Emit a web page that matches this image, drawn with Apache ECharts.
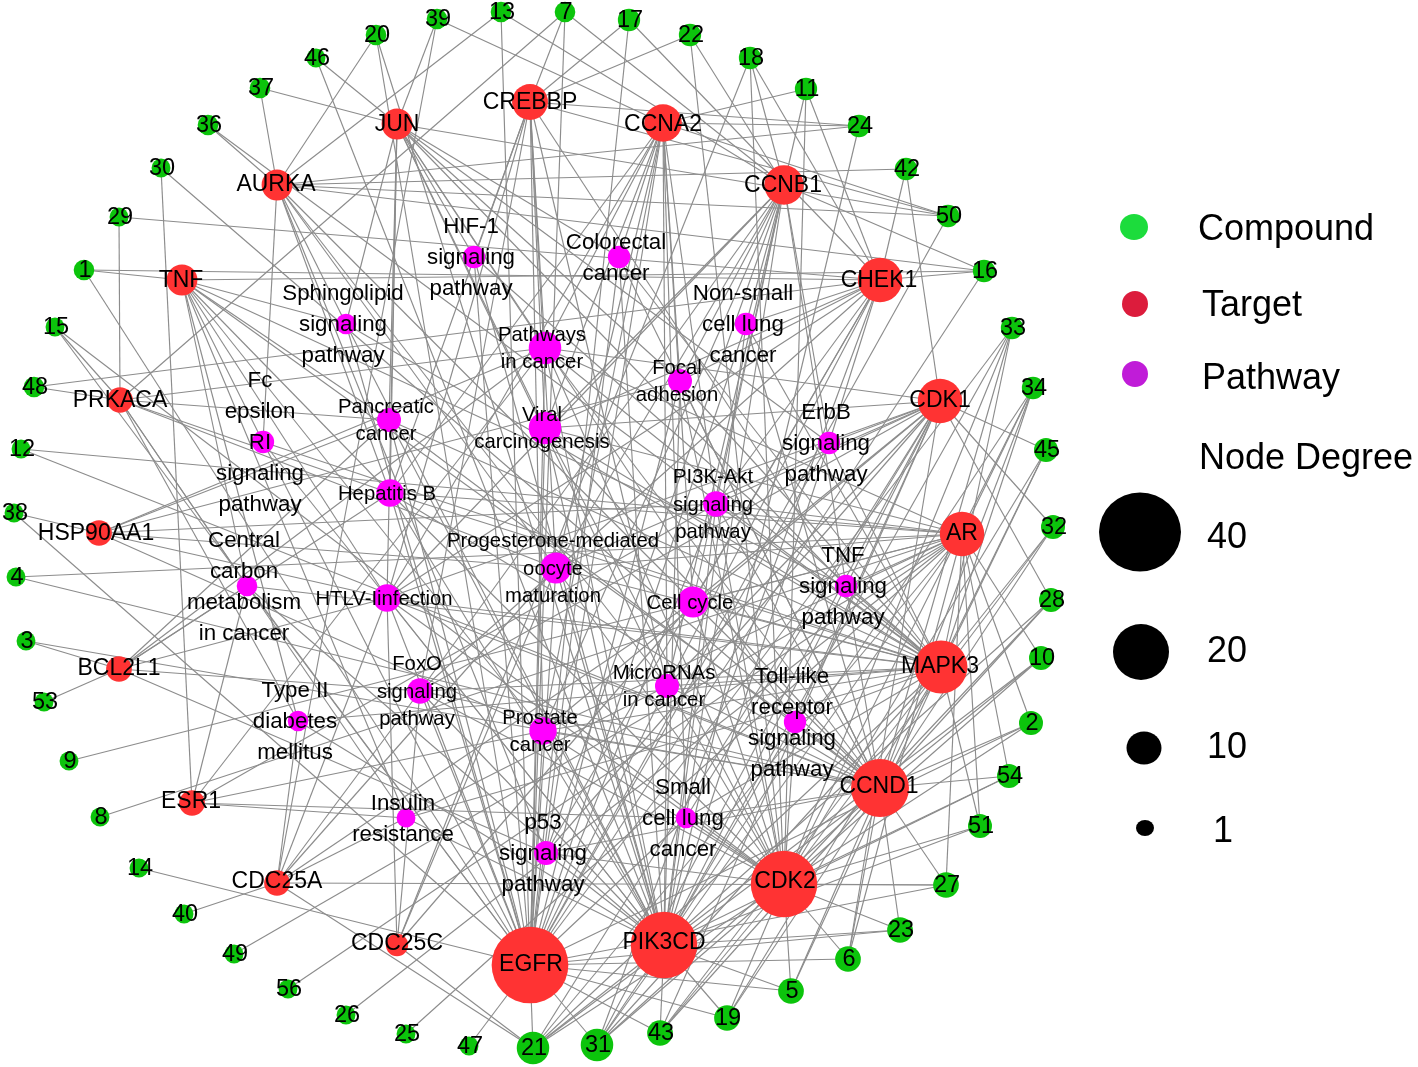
<!DOCTYPE html>
<html><head><meta charset="utf-8">
<style>html,body{margin:0;padding:0;background:#fff}#c{width:1418px;height:1067px}</style>
<script src="https://cdn.jsdelivr.net/npm/echarts@6/dist/echarts.min.js"></script>
</head><body><div id="c"></div>
<script>
// --- compounds
const compoundIds = ['13','39','20','46','37','36','30','29','1','15','48','12','38','4','3','53','9','8','14','40','49','56','26','25','47','21','31','43','19','5','6','23','27','51','54','2','10','28','32','45','34','33','16','50','42','24','11','18','22','17','7'];
const compoundX = [501,437,376,316,260,208,161,119,84,55,34,21,14,16,26,44,69,100,139,184,234,288,346,406,469,533,597,660,727,791,848,900,946,980,1009,1031,1041,1051,1053,1046,1033,1012,984,948,906,859,806,750,690,629,565];
const compoundY = [12,19,35,58,88,125,168,217,270,327,387,449,513,577,641,702,761,817,868,914,954,989,1015,1034,1046,1048,1045,1033,1018,991,959,930,885,826,776,723,658,600,527,450,388,328,271,216,169,126,89,58,35,20,12];
const compoundDegree = [3,3,3,2,3,3,2,2,3,2,3,2,2,2,2,2,2,2,2,2,2,2,2,2,2,10,10,6,6,6,6,6,6,5,5,5,5,5,5,5,4,4,4,4,4,4,4,4,4,4,3];
// --- targets
const targetIds = ['JUN','CREBBP','AURKA','TNF','PRKACA','HSP90AA1','BCL2L1','ESR1','CDC25A','CDC25C','EGFR','PIK3CD','CDK2','CCND1','MAPK3','AR','CDK1','CHEK1','CCNB1','CCNA2'];
const targetX = [397,530,277,182,120,99,119,192,277,397,530,664,784,880,941,962,940,880,784,663];
const targetY = [124,102,185,280,400,533,669,803,883,945,965,945,884,788,667,534,401,280,185,123];
const targetDegree = [9,12,9,9,6,6,6,6,6,4,36,30,30,25,22,17,17,17,14,13];
const targetLabelX = [397,530,276,181,120,96,119,191,277,397,531,664,785,879,940,962,940,879,783,663];
const targetLabelY = [124,102,184,280,400,533,668,801,881,943,964,942,881,786,666,533,400,280,185,124];
// --- pathways
const pathwayIds = ['HIF','COL','SPH','NSC','PIC','FOC','VIR','PAN','ERB','FCE','HEP','PI3','PRO','CCM','HTL','CEL','TNS','FOX','MIR','TOL','PRC','T2D','SCL','INS','P53'];
const pathwayLabels = ['HIF-1\nsignaling\npathway','Colorectal\ncancer','Sphingolipid\nsignaling\npathway','Non-small\ncell lung\ncancer','Pathways\nin cancer','Focal\nadhesion','Viral\ncarcinogenesis','Pancreatic\ncancer','ErbB\nsignaling\npathway','Fc\nepsilon\nRI\nsignaling\npathway','Hepatitis B','PI3K-Akt\nsignaling\npathway','Progesterone-mediated\noocyte\nmaturation','Central\ncarbon\nmetabolism\nin cancer','HTLV-Iinfection','Cell cycle','TNF\nsignaling\npathway','FoxO\nsignaling\npathway','MicroRNAs\nin cancer','Toll-like\nreceptor\nsignaling\npathway','Prostate\ncancer','Type II\ndiabetes\nmellitus','Small\ncell lung\ncancer','Insulin\nresistance','p53\nsignaling\npathway'];
const pathwayX = [474,619,346,746,545,680,545,389,829,263,390,716,556,247,387,693,846,420,667,795,543,298,686,406,546];
const pathwayY = [257,257,324,324,348,381,428,420,443,442,493,504,568,586,598,602,586,691,686,722,731,721,818,818,853];
const pathwayDegree = [4,4,3,4,10,5,10,5,4,4,7,6,9,3,7,9,4,6,5,4,7,3,3,2,5];
const pathwayLabelBig = [1,1,1,1,0,0,0,0,1,1,0,0,0,1,0,0,1,0,0,1,0,1,1,1,1];
// --- edges: first item linked to each of the rest
const compoundEdges = [
 ['13','AURKA','EGFR','CCNB1'],['39','JUN','CDC25A','CCNA2'],['20','AURKA','EGFR','PIK3CD'],['46','JUN','PIK3CD'],
 ['37','JUN','AURKA'],['36','AURKA','MAPK3'],['30','ESR1','CCND1'],['29','PRKACA','CHEK1'],['1','TNF','CHEK1','EGFR'],
 ['15','PRKACA','CDK2','EGFR'],['48','PRKACA','CHEK1'],['12','AR','CCND1'],['38','HSP90AA1','EGFR'],['4','AR','CCND1'],
 ['3','BCL2L1','CCND1'],['53','BCL2L1'],['9','AR'],['8','AR'],['14','EGFR'],['40','CDC25A'],['49','AR'],['56','AR'],['26','AR'],['25','AR'],['47','EGFR'],
 ['21','EGFR','PIK3CD','CDK2','CCND1','CDC25A','CDC25C','MAPK3','AR','CDK1'],
 ['31','EGFR','PIK3CD','CDK2','CCND1','MAPK3','AR','CDK1','CHEK1'],
 ['43','EGFR','PIK3CD','CDK2','CCND1','MAPK3','CDK1'],['19','EGFR','PIK3CD','CDK2','CCND1','MAPK3'],
 ['5','EGFR','PIK3CD','CDK2','CCND1','MAPK3'],['6','EGFR','CDK2','CCND1','CDK1','AR'],['23','EGFR','PIK3CD','CDK2','CCND1'],
 ['27','EGFR','CDK2','CCND1','AR','CDC25A'],['51','PIK3CD','CDK2','MAPK3','AR'],['54','CDK2','PIK3CD','CCND1','AR'],
 ['2','EGFR','CDK2','CCND1','AR'],['10','PIK3CD','CDK2','CCND1','AR'],['28','PIK3CD','CDK2','CCND1','CDK1'],
 ['32','CDK2','CCND1','MAPK3','CDK1'],['45','CDK2','CCND1','MAPK3','CDK1'],['34','PIK3CD','CDK2','CCND1','MAPK3','AR'],
 ['33','EGFR','PIK3CD','CDK2','CCND1','MAPK3'],['16','CHEK1','CCNB1','AURKA','EGFR','TNF'],['50','CREBBP','CCNA2','EGFR','AURKA','JUN'],
 ['42','CHEK1','AURKA','CDK1'],['24','CCNA2','AURKA','PIK3CD','CREBBP'],['11','CCNA2','CCNB1','CDK2','CHEK1'],
 ['18','CDK2','CHEK1','CDC25C','CCNB1'],['22','CREBBP','CDK2','CCNB1'],['17','CREBBP','EGFR','CHEK1'],['7','PRKACA','EGFR','CCNB1','CREBBP']
];
const targetEdges = [
 ['JUN','COL','PIC','FOC','VIR','HEP','PAN','ERB','TNS','TOL','HTL','MIR','SPH','HIF'],
 ['CREBBP','PIC','VIR','HTL','HEP','HIF','PRO','FOX','MIR','TNS','PRC'],
 ['AURKA','HEP','PRO','CEL','MIR','SPH','FCE','P53'],
 ['TNF','SPH','FCE','HEP','HTL','PAN','TNS','TOL','T2D','INS','CCM','PRC'],
 ['PRKACA','HEP','PAN','PIC','PRO','T2D','CCM','INS'],
 ['HSP90AA1','PIC','PI3','PRO','PRC','PAN','HTL','FOC'],
 ['BCL2L1','HTL','CCM','HEP','FOX','PAN','PIC','P53'],
 ['ESR1','PRC','PIC','INS','PI3','CCM','SCL'],
 ['CDC25A','CEL','PRO','MIR','T2D','HTL','FOX'],
 ['CDC25C','CEL','PRO','HTL','FOX'],
 ['EGFR','HIF','COL','NSC','PIC','FOC','PAN','ERB','HEP','PI3','PRO','CCM','HTL','FOX','MIR','PRC','SPH','FCE','VIR','SCL','P53'],
 ['PIK3CD','HIF','COL','SPH','NSC','PIC','FOC','VIR','PAN','ERB','FCE','HEP','PI3','PRO','CCM','HTL','TNS','FOX','MIR','TOL','PRC','T2D','SCL','INS','P53'],
 ['CDK2','PIC','VIR','HEP','PI3','PRO','HTL','CEL','MIR','PRC','SCL','P53','FOX','TOL','FOC'],
 ['CCND1','PIC','COL','NSC','FOC','VIR','PAN','HEP','PI3','HTL','CEL','MIR','PRC','SCL','P53','FOX','TOL','TNS'],
 ['MAPK3','COL','NSC','FOC','PIC','VIR','PAN','ERB','FCE','HEP','PI3','PRO','CCM','HTL','TNS','FOX','MIR','TOL','PRC','T2D','SCL','INS','SPH','HIF','CEL'],
 ['AR','PRC','PIC','TNS','PI3','HEP','PRO','VIR','CEL'],
 ['CDK1','VIR','ERB','CEL','PRO','P53','FOX','HTL','MIR','PI3','PRC','SCL','TNS','TOL','PIC'],
 ['CHEK1','CEL','P53','FOX','MIR','HTL','VIR','NSC','FOC','PI3','ERB'],
 ['CCNB1','PRO','CEL','P53','FOX','HTL','VIR','MIR','PI3','SCL','PRC','FOC','ERB','TNS','NSC'],
 ['CCNA2','COL','PIC','VIR','HTL','CEL','PRO','P53','SCL','MIR','FOC','PI3','PRC','HEP']
];
// --- legend
const legendNames = ['Compound','Target','Pathway'];
const legendColors = ['#1cdc3c','#dc1c3c','#c01cd8'];
const degreeTicks = ['40','20','10','1'];
const degreeSize = d => 15.5 + 1.7 * d;

const FONT = '"Liberation Sans", Arial, sans-serif';
const nodes = [], nodeLabels = [];
compoundIds.forEach((id,i)=>{
  nodes.push({name:id,value:[compoundX[i],compoundY[i]],symbolSize:degreeSize(compoundDegree[i]),itemStyle:{color:'#0cc40c'}});
  nodeLabels.push({name:id,value:[compoundX[i]+1,compoundY[i]+1],label:{fontSize:23.5}});
});
targetIds.forEach((id,i)=>{
  nodes.push({name:id,value:[targetX[i],targetY[i]],symbolSize:degreeSize(targetDegree[i]),itemStyle:{color:'#ff3333'}});
  nodeLabels.push({name:id,value:[targetLabelX[i],targetLabelY[i]+1],label:{fontSize:23}});
});
pathwayIds.forEach((id,i)=>{
  nodes.push({name:id,value:[pathwayX[i],pathwayY[i]],symbolSize:degreeSize(pathwayDegree[i]),itemStyle:{color:'#ff00ff'}});
  const big = pathwayLabelBig[i];
  nodeLabels.push({name:pathwayLabels[i],value:[pathwayX[i]-3,pathwayY[i]+1],label:{fontSize:big?22.3:20.3,lineHeight:big?31:27.5}});
});
const links = [];
[...compoundEdges,...targetEdges].forEach(r=>r.slice(1).forEach(t=>links.push({source:r[0],target:t})));

const legendDots = legendNames.map((n,i)=>({value:[[1134,1135,1135][i],[227,304,374][i]],symbolSize:[[28,26],[26,26],[26,26]][i],itemStyle:{color:legendColors[i],opacity:1}}));
const degreeDots = degreeTicks.map((n,i)=>({value:[[1140,1141,1144,1145][i],[532,652,748,828][i]],symbolSize:[[82,79],[56,56],[35,33],[18,16]][i],itemStyle:{color:'#000',opacity:1}}));
const legendTexts = [...legendNames,'Node Degree',...degreeTicks].map((n,i)=>({
  value:[[1198,1202,1202,1199,1207,1207,1207,1213][i],[230,306,379,459,538,652,748,832][i]],name:n}));

const chart = echarts.init(document.getElementById('c'),null,{renderer:'canvas'});
chart.setOption({
  animation:false,
  grid:{left:0,right:0,top:0,bottom:0},
  xAxis:{type:'value',min:0,max:1418,show:false},
  yAxis:{type:'value',min:0,max:1067,inverse:true,show:false},
  series:[
   {type:'graph',coordinateSystem:'cartesian2d',layout:'none',roam:false,silent:true,data:nodes,links:links,
    lineStyle:{color:'#8c8c8c',width:1.15,opacity:1,curveness:0},label:{show:false},emphasis:{disabled:true},z:2},
   {type:'scatter',silent:true,data:[...legendDots,...degreeDots],symbol:'circle',z:2},
   {type:'scatter',silent:true,symbolSize:0,data:nodeLabels,z:5,itemStyle:{opacity:1},
    label:{show:true,position:'inside',align:'center',verticalAlign:'middle',color:'#000',fontFamily:FONT,formatter:p=>p.name},labelLayout:{hideOverlap:false}},
   {type:'scatter',silent:true,symbolSize:0,data:legendTexts,z:5,itemStyle:{opacity:1},
    label:{show:true,position:'inside',align:'left',verticalAlign:'middle',color:'#000',fontSize:36,fontFamily:FONT,formatter:p=>p.name}}
  ]
});
</script></body></html>
